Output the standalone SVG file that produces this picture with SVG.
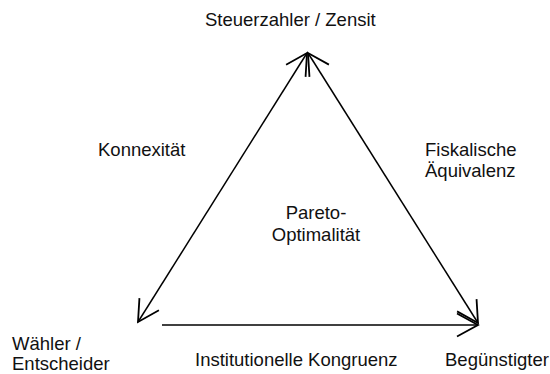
<svg xmlns="http://www.w3.org/2000/svg" width="550" height="374" viewBox="0 0 550 374">
  <style>
    text { font-family: "Liberation Sans", Arial, Helvetica, sans-serif; font-size: 18.5px; fill: #111; }
    .edge { stroke: #000; stroke-width: 1.5; fill: none; }
    .mid { text-anchor: middle; }
  </style>
  <defs>
    <marker id="arr" markerUnits="userSpaceOnUse" viewBox="-26 -15 28 30" markerWidth="28" markerHeight="30" refX="0" refY="0" orient="auto-start-reverse" overflow="visible">
      <path d="M-21,-11.5 L0,0 L-21,11.5" fill="none" stroke="#000" stroke-width="1.8"/>
    </marker>
  </defs>
  <rect width="550" height="374" fill="#fff"/>

  <g id="connectors">
    <line class="edge" x1="307" y1="53" x2="138" y2="322" marker-start="url(#arr)" marker-end="url(#arr)"/>
    <line class="edge" x1="308" y1="53" x2="478" y2="323" marker-start="url(#arr)" marker-end="url(#arr)"/>
    <line class="edge" x1="162" y1="325" x2="478" y2="325" marker-end="url(#arr)"/>
  </g>

  <g id="node-steuerzahler">
    <text x="205" y="26">Steuerzahler / Zensit</text>
  </g>
  <g id="node-waehler">
    <text x="12" y="350">Wähler /</text>
    <text x="12" y="370">Entscheider</text>
  </g>
  <g id="node-beguenstigter">
    <text x="445" y="366">Begünstigter</text>
  </g>

  <g id="label-konnexitaet">
    <text x="98" y="156">Konnexität</text>
  </g>
  <g id="label-fiskalische-aequivalenz">
    <text x="425" y="156">Fiskalische</text>
    <text x="425" y="177">Äquivalenz</text>
  </g>
  <g id="label-institutionelle-kongruenz">
    <text x="195" y="366">Institutionelle Kongruenz</text>
  </g>
  <g id="label-pareto">
    <text class="mid" x="316" y="219">Pareto-</text>
    <text class="mid" x="316" y="241">Optimalität</text>
  </g>
</svg>
